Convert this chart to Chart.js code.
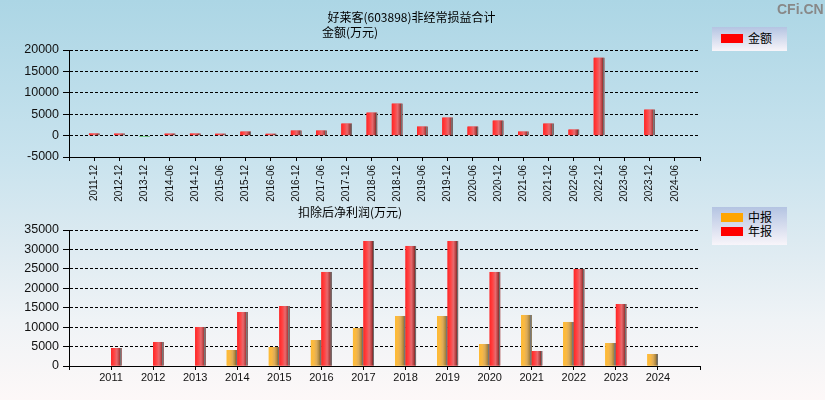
<!DOCTYPE html>
<html>
<head>
<meta charset="utf-8">
<script src="https://cdn.jsdelivr.net/npm/chart.js@4.4.1/dist/chart.umd.min.js"></script>
<style>
    html, body { margin: 0; padding: 0; }
    body {
        width: 825px; height: 400px; position: relative; overflow: hidden;
        background: linear-gradient(to bottom, #acd6e5 0%, #c9e3ee 40%, #dceaf1 60%, #eff3f6 80%, #fdf8f8 100%);
        font-family: "Noto Sans CJK SC", "Liberation Sans", sans-serif;
    }
    canvas { position: absolute; left: 0; }
    .txt { position: absolute; white-space: nowrap; color: #000; font-size: 12px; line-height: 16px; }
    .mark { position: absolute; left: 777px; top: 1px; font: bold 14px "Liberation Sans", Arial, sans-serif; color: #888; }
    .legend { position: absolute; left: 712px; width: 75px; background: linear-gradient(to bottom, #b4c4e2, #f8f5fa); }
    .legend i { position: absolute; left: 9px; width: 22px; height: 9px; }
    .legend span { position: absolute; left: 36px; font-size: 12px; line-height: 14px; }
</style>
</head>
<body>
<canvas id="topChart" width="825" height="210" style="top:0"></canvas>
<canvas id="bottomChart" width="825" height="200" style="top:200px"></canvas>

<div class="txt" style="left:0;width:823px;text-align:center;top:9px">好莱客(603898)非经常损益合计</div>
<div class="txt" style="left:322px;top:24px">金额(万元)</div>
<div class="txt" style="left:298px;top:204px">扣除后净利润(万元)</div>
<div class="mark">CFi.CN</div>

<div class="legend" style="top:27px;height:24px">
    <i style="top:7px;background:#ff0000"></i><span style="top:4px">金额</span>
</div>
<div class="legend" style="top:207px;height:38px">
    <i style="top:6px;background:#ffa500"></i><span style="top:3px">中报</span>
    <i style="top:20px;background:#ff0000"></i><span style="top:17px">年报</span>
</div>

<script>
// 非经常损益合计 (万元)
const periods = ['2011-12', '2012-12', '2013-12', '2014-06', '2014-12', '2015-06', '2015-12', '2016-06',
    '2016-12', '2017-06', '2017-12', '2018-06', '2018-12', '2019-06', '2019-12', '2020-06', '2020-12',
    '2021-06', '2021-12', '2022-06', '2022-12', '2023-06', '2023-12', '2024-06'];
const amounts = [480, 460, -200, 450, 470, 430, 930, 420, 1170, 1170, 2800, 5360, 7460, 2100, 4200,
    2100, 3500, 930, 2800, 1400, 18180, null, 6060, null];

// 扣除后净利润 (万元)
const years = ['2011', '2012', '2013', '2014', '2015', '2016', '2017', '2018', '2019', '2020', '2021', '2022', '2023', '2024'];
const midReport = [null, null, null, 4120, 4890, 6690, 9780, 12870, 12870, 5660, 13130, 11330, 5920, 3090];
const annualReport = [4630, 6180, 10040, 13900, 15440, 24200, 32170, 30890, 32170, 24200, 3860, 24970, 15960, null];

const topTicks = { min: -5000, max: 20000, step: 5000 };
const bottomTicks = { min: 0, max: 35000, step: 5000 };

document.addEventListener('DOMContentLoaded', () => {

    //柱子颜色 (左亮 中浅 右暗 + 灰边)
    const shades = {
        red: ['#ff2626', '#ff4444', '#e86a6e', '#b03c3c', '#8c3232'],
        orange: ['#ffbb33', '#f8b845', '#dcab58', '#aa843c', '#8a6a30'],
        green: ['#2fbf2f', '#4ccc4c', '#66b866', '#2f8a2f', '#2a6a2a']
    };

    const barShade = {
        id: 'barShade',
        afterDatasetsDraw(chart) {
            let ctx = chart.ctx;
            chart.data.datasets.forEach((ds, di) => {
                let meta = chart.getDatasetMeta(di);
                meta.data.forEach((bar, i) => {
                    let v = ds.data[i];
                    if (v == null) return;
                    let p = bar.getProps(['x', 'y', 'base', 'width'], true);
                    let left = p.x - p.width / 2;
                    let top = Math.min(p.y, p.base);
                    let h = Math.abs(p.base - p.y);
                    let c = shades[v < 0 ? 'green' : ds.shade];
                    let g = ctx.createLinearGradient(left, 0, left + p.width, 0);
                    g.addColorStop(0, c[0]);
                    g.addColorStop(0.3, c[1]);
                    g.addColorStop(0.55, c[2]);
                    g.addColorStop(0.8, c[3]);
                    g.addColorStop(0.86, c[4]);
                    g.addColorStop(0.87, '#7a7a7a');
                    g.addColorStop(1, '#666666');
                    ctx.fillStyle = g;
                    ctx.fillRect(left, top, p.width, h);
                });
            });
        }
    };

    const tickFont = { family: '"Liberation Sans", Arial, sans-serif', size: 12.5 };

    function yAxis(t) {
        return {
            min: t.min, max: t.max,
            ticks: { stepSize: t.step, color: '#111', font: tickFont, padding: 4, callback: v => String(v) },
            grid: { color: '#000', lineWidth: 1, tickLength: 6, tickColor: '#000' },
            border: { color: '#000', width: 1, dash: [3, 2] },
            afterFit: s => { s.width = 69; }
        };
    }

    function xAxis(height, fontSize, rotate, pad) {
        return {
            offset: false,
            grid: { offset: false, drawOnChartArea: false, tickLength: 4, color: '#000', tickColor: '#000' },
            border: { color: '#000', width: 1 },
            ticks: {
                autoSkip: false, minRotation: rotate, maxRotation: rotate, padding: pad,
                color: '#111', font: { family: '"Liberation Sans", Arial, sans-serif', size: fontSize }
            },
            afterFit: s => { s.height = height; }
        };
    }

    //首尾留一格空位
    const pad = arr => [''].concat(arr, ['']);
    const padData = arr => [null].concat(arr, [null]);

    new Chart(document.getElementById('topChart'), {
        type: 'bar',
        data: {
            labels: pad(periods),
            datasets: [{
                label: '金额',
                shade: 'red',
                data: padData(amounts),
                backgroundColor: c => (c.raw < 0 ? '#2fbf2f' : '#ff2020'),
                categoryPercentage: 0.42,
                barPercentage: 1
            }]
        },
        options: {
            responsive: false,
            animation: false,
            layout: { padding: { top: 50, right: 125, left: 0, bottom: 0 } },
            plugins: { legend: { display: false }, tooltip: { enabled: false } },
            scales: { x: xAxis(53, 10, 90, 4), y: yAxis(topTicks) }
        },
        plugins: [barShade]
    });

    new Chart(document.getElementById('bottomChart'), {
        type: 'bar',
        data: {
            labels: pad(years),
            datasets: [{
                label: '中报',
                shade: 'orange',
                data: padData(midReport),
                backgroundColor: '#ffa500',
                categoryPercentage: 0.5,
                barPercentage: 1
            }, {
                label: '年报',
                shade: 'red',
                data: padData(annualReport),
                backgroundColor: '#ff2020',
                categoryPercentage: 0.5,
                barPercentage: 1
            }]
        },
        options: {
            responsive: false,
            animation: false,
            layout: { padding: { top: 30, right: 125, left: 0, bottom: 0 } },
            plugins: { legend: { display: false }, tooltip: { enabled: false } },
            scales: { x: xAxis(34, 11, 0, 1), y: yAxis(bottomTicks) }
        },
        plugins: [barShade]
    });

})
</script>
</body>
</html>
